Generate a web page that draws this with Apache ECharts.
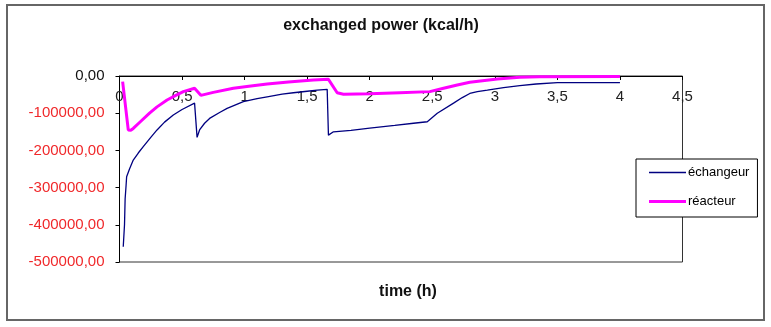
<!DOCTYPE html>
<html>
<head>
<meta charset="utf-8">
<script src="https://cdn.jsdelivr.net/npm/echarts@6/dist/echarts.min.js"></script>
<style>
  html, body { margin: 0; padding: 0; background: #fff; }
  #chart { width: 771px; height: 327px; }
</style>
</head>
<body>
<div id="chart"></div>
<script>
// échangeur (heat exchanger) - time in h, power in kcal/h
const exchangerTime = [0.03, 0.04, 0.045, 0.052, 0.057, 0.08, 0.11, 0.15, 0.19, 0.25, 0.30, 0.36, 0.43, 0.50, 0.60,
  0.62, 0.64, 0.68, 0.72, 0.80, 0.86, 0.99, 1.10, 1.18, 1.30, 1.39, 1.50, 1.58, 1.66,
  1.67, 1.71, 1.85, 2.0, 2.2, 2.35, 2.46, 2.54, 2.67, 2.74, 2.80, 2.86, 2.94, 3.07, 3.2, 3.33, 3.5, 4.0];
const exchangerPower = [-459000, -400000, -330000, -297000, -271000, -250000, -226000, -207000, -190000, -165000, -145000, -124000, -105000, -90000, -73000,
  -165000, -145000, -127000, -114000, -98000, -87000, -69000, -61000, -56000, -49000, -45000, -41000, -38000, -36000,
  -159000, -150000, -146000, -140000, -133000, -127000, -123000, -100000, -73000, -58000, -47000, -42000, -38000, -31000, -26000, -21500, -18000, -18000];

// réacteur (reactor)
const reactorTime = [0.025, 0.07, 0.09, 0.11, 0.16, 0.24, 0.30, 0.38, 0.45, 0.51, 0.60, 0.61, 0.65, 0.75, 0.91, 1.05,
  1.18, 1.35, 1.55, 1.67, 1.74, 1.79, 2.0, 2.24, 2.48, 2.59, 2.70, 2.80, 3.02, 3.20, 3.36, 4.0];
const reactorPower = [-15000, -145000, -146000, -141000, -125000, -100000, -83000, -64500, -52000, -42000, -33000, -35000, -52000, -44000, -33000, -27000,
  -21500, -16000, -10700, -9000, -45000, -49000, -48000, -45000, -42000, -33000, -24000, -17000, -8000, -3600, -1800, -1500];

const seriesNames = ['échangeur', 'réacteur'];
const titleText = 'exchanged power (kcal/h)';
const xAxisTitle = 'time (h)';

const font = '"Liberation Sans", Arial, sans-serif';

function pairs(xs, ys) {
  return xs.map((x, i) => [x, ys[i]]);
}

const chart = echarts.init(document.getElementById('chart'));
chart.setOption({
  animation: false,
  backgroundColor: '#fff',
  graphic: [
    {
      type: 'rect',
      shape: { x: 7, y: 5, width: 757, height: 315 },
      style: { fill: 'none', stroke: '#666', lineWidth: 2 },
      silent: true
    },
    {
      type: 'text',
      style: {
        x: 381, y: 26, text: titleText, textAlign: 'center', textVerticalAlign: 'middle',
        font: 'bold 16px ' + font, fill: '#111'
      }
    },
    {
      type: 'text',
      style: {
        x: 408, y: 292, text: xAxisTitle, textAlign: 'center', textVerticalAlign: 'middle',
        font: 'bold 16px ' + font, fill: '#111'
      }
    }
  ],
  grid: {
    left: 119.5, right: 88.5, top: 76, bottom: 65,
    show: true, borderColor: '#333', borderWidth: 1, backgroundColor: '#fff'
  },
  legend: {
    orient: 'vertical',
    left: 636, top: 159,
    padding: [7, 8, 9, 13],
    itemGap: 16,
    itemWidth: 37,
    itemHeight: 14,
    symbolKeepAspect: true,
    borderColor: '#000',
    borderWidth: 1,
    backgroundColor: '#fff',
    textStyle: { fontFamily: font, fontSize: 13, color: '#000', padding: [0, 0, 0, -3] },
    data: [
      { name: seriesNames[0], icon: 'path://M0,0H370V13H0Z' },
      { name: seriesNames[1], icon: 'path://M0,0H370V30H0Z' }
    ]
  },
  xAxis: {
    type: 'value',
    position: 'top',
    min: 0, max: 4.5, interval: 0.5,
    axisLine: { onZero: false, lineStyle: { color: '#000', width: 1 } },
    axisTick: { show: true, inside: true, length: 4, lineStyle: { color: '#000' } },
    splitLine: { show: false },
    axisLabel: {
      inside: true,
      margin: 13, fontFamily: font, fontSize: 15, color: '#222',
      formatter: v => String(v).replace('.', ',')
    }
  },
  yAxis: {
    type: 'value',
    min: -500000, max: 0, interval: 100000,
    axisLine: { show: true, lineStyle: { color: '#000', width: 1 } },
    axisTick: { show: true, length: 4, lineStyle: { color: '#000' } },
    splitLine: { show: false },
    axisLabel: {
      margin: 15, fontFamily: font, fontSize: 15,
      color: v => (Number(v) < 0 ? '#f0282a' : '#111'),
      formatter: v => v.toFixed(2).replace('.', ',')
    }
  },
  series: [
    {
      name: seriesNames[0],
      type: 'line',
      symbol: 'none',
      z: 3,
      color: '#000080',
      lineStyle: { color: '#000080', width: 1.3 },
      data: pairs(exchangerTime, exchangerPower)
    },
    {
      name: seriesNames[1],
      type: 'line',
      symbol: 'none',
      z: 4,
      color: '#ff00ff',
      lineStyle: { color: '#ff00ff', width: 3 },
      data: pairs(reactorTime, reactorPower)
    }
  ]
});
</script>
</body>
</html>
